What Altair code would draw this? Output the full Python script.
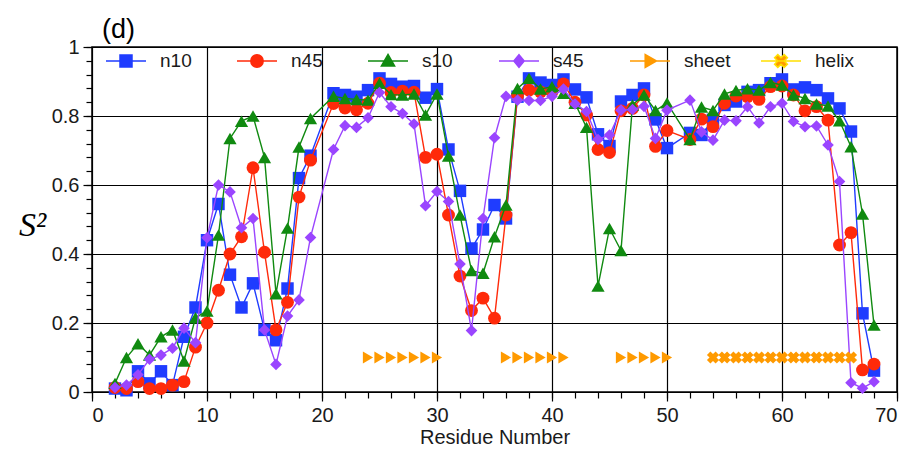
import altair as alt
import pandas as pd

# ---------------- data ----------------
residues = list(range(2, 20)) + list(range(21, 51)) + list(range(52, 69))

n10 = [0.010, 0.005, 0.060, 0.025, 0.060, 0.020, 0.160, 0.245, 0.440, 0.545,
       0.340, 0.245, 0.315, 0.180, 0.150, 0.300, 0.620, 0.685,
       0.866, 0.861, 0.856, 0.875, 0.909, 0.893, 0.885, 0.887, 0.853, 0.878,
       0.703, 0.583, 0.416, 0.471, 0.542, 0.503, 0.856, 0.909, 0.897, 0.890,
       0.906, 0.877, 0.854, 0.747, 0.713, 0.842, 0.861, 0.880, 0.790, 0.707,
       0.751, 0.745, 0.789, 0.832, 0.842, 0.870, 0.875, 0.895, 0.906, 0.877,
       0.883, 0.875, 0.851, 0.822, 0.755, 0.228, 0.062]

n45 = [0.013, 0.010, 0.030, 0.010, 0.010, 0.020, 0.030, 0.130, 0.200, 0.295,
       0.400, 0.450, 0.650, 0.405, 0.180, 0.260, 0.565, 0.672,
       0.836, 0.823, 0.818, 0.837, 0.895, 0.868, 0.872, 0.869, 0.680, 0.689,
       0.513, 0.336, 0.236, 0.272, 0.214, 0.513, 0.858, 0.875, 0.870, 0.870,
       0.893, 0.840, 0.803, 0.703, 0.694, 0.815, 0.822, 0.861, 0.712, 0.758,
       0.732, 0.791, 0.769, 0.837, 0.858, 0.856, 0.848, 0.885, 0.887, 0.861,
       0.815, 0.827, 0.788, 0.426, 0.462, 0.064, 0.081]

s10 = [0.025, 0.100, 0.140, 0.107, 0.160, 0.180, 0.090, 0.215, 0.235, 0.455,
       0.735, 0.785, 0.800, 0.680, 0.285, 0.475, 0.710, 0.793,
       0.857, 0.851, 0.848, 0.846, 0.895, 0.862, 0.861, 0.864, 0.803, 0.864,
       0.684, 0.513, 0.352, 0.344, 0.450, 0.542, 0.880, 0.909, 0.878, 0.885,
       0.866, 0.837, 0.767, 0.307, 0.474, 0.410, 0.832, 0.861, 0.816, 0.838,
       0.732, 0.826, 0.816, 0.864, 0.874, 0.879, 0.875, 0.897, 0.890, 0.861,
       0.851, 0.835, 0.829, 0.786, 0.711, 0.516, 0.194]

s45 = [0.013, 0.020, 0.050, 0.095, 0.107, 0.127, 0.185, 0.143, 0.447, 0.600,
       0.580, 0.476, 0.503, 0.180, 0.080, 0.220, 0.267, 0.448,
       0.703, 0.772, 0.767, 0.795, 0.868, 0.827, 0.807, 0.777, 0.540, 0.581,
       0.552, 0.371, 0.178, 0.503, 0.737, 0.857, 0.846, 0.845, 0.845, 0.857,
       0.878, 0.835, 0.813, 0.732, 0.745, 0.817, 0.819, 0.828, 0.735, 0.817,
       0.846, 0.754, 0.730, 0.788, 0.786, 0.827, 0.780, 0.827, 0.837, 0.784,
       0.769, 0.771, 0.716, 0.610, 0.027, 0.011, 0.030]

sheet_residues = list(range(24, 31)) + list(range(36, 42)) + list(range(46, 51))
helix_residues = list(range(54, 67))
marker_level = 0.1

series_names = ["n10", "n45", "s10", "s45", "sheet", "helix"]

x_major_ticks = [0, 10, 20, 30, 40, 50, 60, 70]
x_minor_ticks = list(range(0, 71, 2))
y_major_ticks = [0, 0.2, 0.4, 0.6, 0.8, 1.0]
y_minor_ticks = [round(i * 0.04, 2) for i in range(26)]

# ---------------- table ----------------
rows = []
for name, vals in zip(series_names[:4], [n10, n45, s10, s45]):
    for r, v in zip(residues, vals):
        rows.append({"series": name, "residue": r, "s2": v})
for r in sheet_residues:
    rows.append({"series": "sheet", "residue": r, "s2": marker_level})
for r in helix_residues:
    rows.append({"series": "helix", "residue": r, "s2": marker_level})
df = pd.DataFrame(rows)

# ---------------- styles ----------------
colors = {"n10": "#1f3cff", "n45": "#ff2a0a", "s10": "#108a10",
          "s45": "#9a45ff", "sheet": "#ff9a00", "helix": "#ff9a00"}
shapes = {"n10": "square", "n45": "circle", "s10": "triangle-up",
          "s45": "diamond", "sheet": "triangle-right", "helix": "cross"}
sizes = {"n10": 155, "n45": 165, "s10": 175, "s45": 135, "sheet": 140, "helix": 150}

legend_paths = [
    "M-1,0H1M-0.3,-0.3H0.3V0.3H-0.3Z",
    "M-1,0H1M-0.31,0A0.31,0.31,0,1,0,0.31,0A0.31,0.31,0,1,0,-0.31,0Z",
    "M-1,0H1M0,-0.33L0.33,0.25L-0.33,0.25Z",
    "M-1,0H1M0,-0.32L0.26,0L0,0.32L-0.26,0Z",
    "M-1,0H1M0.32,0L-0.24,-0.32L-0.24,0.32Z",
    "M-1,0H1M-0.32,-0.16L-0.16,-0.32L0,-0.16L0.16,-0.32L0.32,-0.16L0.16,0"
    "L0.32,0.16L0.16,0.32L0,0.16L-0.16,0.32L-0.32,0.16L-0.16,0Z",
]
legend_fill = [colors[s] for s in series_names]
legend_stroke = legend_fill[:5] + ["#ffe000"]

FONT = "Liberation Sans"
TXT = "#1a1a1a"

xs = alt.Scale(domain=[0, 70], nice=False, zero=False)
ys = alt.Scale(domain=[0, 1], nice=False, zero=False)

base = alt.Chart(df)

major_x = alt.Axis(orient="bottom", values=x_major_ticks, grid=True, gridColor="black",
                   gridWidth=1.2, gridOpacity=1, domain=False, ticks=True, tickSize=9,
                   tickColor="black", tickWidth=1.2, labelFont=FONT, labelFontSize=20,
                   labelColor=TXT, labelPadding=4, title="Residue Number",
                   titleFont=FONT, titleFontSize=20, titleFontWeight="normal",
                   titleColor=TXT, titlePadding=2)
major_y = alt.Axis(orient="left", values=y_major_ticks, format=".1~f", grid=True,
                   gridColor="black", gridWidth=1.2, gridOpacity=1, domain=False,
                   ticks=True, tickSize=9, tickColor="black", tickWidth=1.2,
                   labelFont=FONT, labelFontSize=20, labelColor=TXT, labelPadding=4,
                   title="S²", titleFont="Liberation Serif", titleFontStyle="italic",
                   titleFontSize=34, titleFontWeight="normal", titleColor="black",
                   titleAngle=0, titleAlign="center", titleBaseline="middle",
                   titleX=-60, titleY=178)
minor_x = alt.Axis(orient="bottom", values=x_minor_ticks, grid=False, labels=False,
                   domain=False, ticks=True, tickSize=6, tickColor="black",
                   tickWidth=1.2, title=None)
minor_y = alt.Axis(orient="left", values=y_minor_ticks, grid=False, labels=False,
                   domain=False, ticks=True, tickSize=6, tickColor="black",
                   tickWidth=1.2, title=None)

layers = []
for i, name in enumerate(series_names[:4]):
    sub = base.transform_filter(alt.datum.series == name)
    if i == 0:
        ax_x, ax_y = major_x, major_y
        px, py = minor_x, minor_y
    else:
        ax_x, ax_y = None, None
        px, py = None, None
    line = sub.mark_line(color=colors[name], strokeWidth=1.4).encode(
        x=alt.X("residue:Q", scale=xs, axis=ax_x),
        y=alt.Y("s2:Q", scale=ys, axis=ax_y),
    )
    pts = sub.mark_point(shape=shapes[name], filled=True, color=colors[name],
                         size=sizes[name], opacity=1).encode(
        x=alt.X("residue:Q", scale=xs, axis=px),
        y=alt.Y("s2:Q", scale=ys, axis=py),
    )
    layers += [line, pts]

for name in ["sheet", "helix"]:
    sub = base.transform_filter(alt.datum.series == name)
    kw = {"angle": 45} if name == "helix" else {}
    pts = sub.mark_point(shape=shapes[name], filled=True, color=colors[name],
                         size=sizes[name], opacity=1, **kw).encode(
        x=alt.X("residue:Q", scale=xs, axis=None),
        y=alt.Y("s2:Q", scale=ys, axis=None),
    )
    layers.append(pts)

leg = alt.Legend(orient="none", legendX=13, legendY=-7, direction="horizontal",
                 columns=6, title=None, symbolSize=1600, symbolStrokeWidth=1.5,
                 labelFont=FONT, labelFontSize=19, labelColor=TXT, labelOffset=13,
                 columnPadding=27, gridAlign="all", padding=0, symbolOpacity=1)

legend_layer = base.mark_point(size=0, filled=True).encode(
    x=alt.X("residue:Q", scale=xs, axis=None),
    y=alt.Y("s2:Q", scale=ys, axis=None),
    fill=alt.Fill("series:N", scale=alt.Scale(domain=series_names, range=legend_fill),
                  sort=series_names, legend=leg),
    stroke=alt.Stroke("series:N", scale=alt.Scale(domain=series_names, range=legend_stroke),
                      sort=series_names, legend=leg),
    shape=alt.Shape("series:N", scale=alt.Scale(domain=series_names, range=legend_paths),
                    sort=series_names, legend=leg),
)
layers.append(legend_layer)

chart = alt.layer(*layers).resolve_axis(x="independent", y="independent").properties(
    width=805, height=345,
    title=alt.TitleParams("(d)", anchor="start", frame="group", fontSize=27, font=FONT,
                          fontWeight="normal", color="black", dx=10, dy=8, offset=1),
    autosize=alt.AutoSizeParams(type="none"),
    padding={"left": 92, "top": 47, "right": 14, "bottom": 60},
).configure_view(stroke="black", strokeWidth=1.5)

chart.save("out.html", embed_options={"renderer": "svg", "actions": False})
